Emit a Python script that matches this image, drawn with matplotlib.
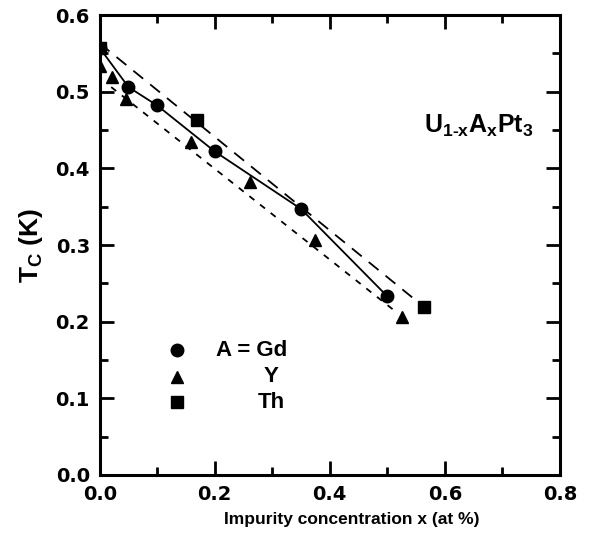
import matplotlib.pyplot as plt
from matplotlib.ticker import MultipleLocator

plt.rcParams['font.family'] = ['Liberation Sans', 'DejaVu Sans']
plt.rcParams['font.weight'] = 'bold'
plt.rcParams['mathtext.fontset'] = 'custom'
plt.rcParams['mathtext.bf'] = 'Liberation Sans:bold'
plt.rcParams['mathtext.rm'] = 'Liberation Sans:bold'

# data
gd_x = [0.0, 0.05, 0.10, 0.20, 0.35, 0.50]
gd_y = [0.557, 0.506, 0.482, 0.422, 0.347, 0.233]

y_x = [0.0, 0.022, 0.046, 0.158, 0.262, 0.374, 0.526]
y_y = [0.533, 0.519, 0.490, 0.435, 0.382, 0.306, 0.206]

th_x = [0.0, 0.169, 0.564]
th_y = [0.557, 0.463, 0.219]

# guide lines (end points)
long_dash_x = [0.0, 0.564]
long_dash_y = [0.563, 0.219]
short_dash_x = [0.02, 0.513]
short_dash_y = [0.506, 0.214]

fig = plt.figure(figsize=(5.9, 5.37), dpi=100)
ax = fig.add_axes([0.169, 0.1155, 0.78, 0.8565])

ax.plot(gd_x, gd_y, 'k-', lw=1.3)
ax.plot(long_dash_x, long_dash_y, color='k', lw=1.3, dashes=(7, 5))
ax.plot(short_dash_x, short_dash_y, color='k', lw=1.3, dashes=(3.5, 4))

ax.plot(gd_x, gd_y, 'ko', ms=9, ls='none')
ax.plot(y_x, y_y, 'k^', ms=9, ls='none')
ax.plot(th_x, th_y, 'ks', ms=8, ls='none')

# legend drawn by hand like the original
ax.plot([0.135], [0.163], 'ko', ms=9)
ax.plot([0.135], [0.128], 'k^', ms=9)
ax.plot([0.135], [0.095], 'ks', ms=8)
ax.text(0.202, 0.163, 'A = Gd', fontsize=16, fontweight='bold', va='center')
ax.text(0.298, 0.128, 'Y', fontsize=16, fontweight='bold', va='center', ha='center')
ax.text(0.298, 0.095, 'Th', fontsize=16, fontweight='bold', va='center', ha='center')

ax.text(0.563, 0.455, r'U$_{\mathbf{1\text{-}x}}$A$_{\mathbf{x}}$Pt$_{\mathbf{3}}$',
        fontsize=18, fontweight='bold', va='center')

ax.set_xlim(0, 0.8)
ax.set_ylim(0, 0.6)
ax.xaxis.set_major_locator(MultipleLocator(0.2))
ax.xaxis.set_minor_locator(MultipleLocator(0.1))
ax.yaxis.set_major_locator(MultipleLocator(0.1))
ax.yaxis.set_minor_locator(MultipleLocator(0.05))
ax.xaxis.set_major_formatter(plt.FormatStrFormatter('%.1f'))
ax.yaxis.set_major_formatter(plt.FormatStrFormatter('%.1f'))
ax.tick_params(which='both', direction='in', top=True, right=True, width=2)
ax.tick_params(which='major', length=10)
ax.tick_params(which='minor', length=6)
ax.tick_params(axis='x', pad=7)
ax.tick_params(axis='y', pad=7)
for lab in ax.get_xticklabels() + ax.get_yticklabels():
    lab.set_fontfamily('DejaVu Sans')
    lab.set_fontweight('bold')
    lab.set_fontsize(14)
for s in ax.spines.values():
    s.set_linewidth(2.2)

ax.set_xlabel('Impurity concentration x (at %)', fontsize=12.5, fontweight='bold', labelpad=6)
ax.xaxis.label.set_x(0.548)
ax.set_ylabel(r'T$_{\mathbf{C}}$ (K)', fontsize=19, fontweight='bold', labelpad=8)

fig.savefig('out.png', dpi=100)
